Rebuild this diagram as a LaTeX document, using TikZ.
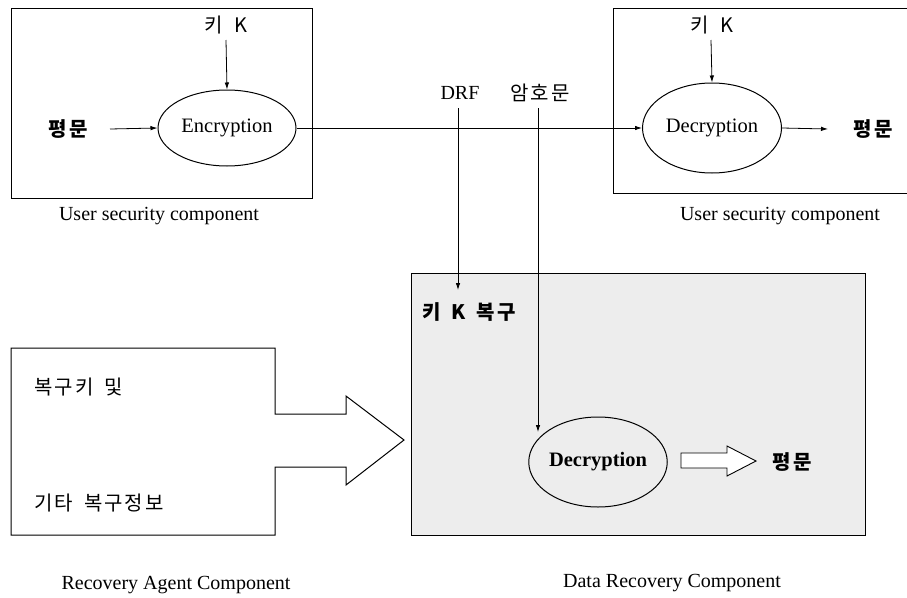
\documentclass[tikz,border=0pt]{standalone}
\usepackage{fontspec}
\setmainfont{Liberation Serif}
\newfontfamily\kr[LetterSpace=10]{Noto Sans CJK KR}
\newcommand{\wsp}{\hspace{0.55em}}
\usetikzlibrary{shapes.geometric,arrows.meta}
\begin{document}
\begin{tikzpicture}[x=1pt,y=-1pt,
  every node/.style={inner sep=1pt},
  box/.style={draw,line width=1pt},
  proc/.style={draw,ellipse,line width=1pt,inner sep=0pt,font=\fontsize{20.5}{22}\selectfont},
  lbl/.style={font=\fontsize{20}{22}\selectfont},
  krl/.style={font=\fontsize{20}{22}\selectfont\kr},
  krb/.style={font=\fontsize{20}{22}\selectfont\kr\bfseries},
  arr/.style={line width=0.8pt,-{Latex[length=7pt,width=4.5pt]}},
  ln/.style={line width=0.8pt}]
\useasboundingbox (0,0) rectangle (907,597);
% boxes
\draw[box] (11,8) rectangle (312,198);
\draw[box] (907,8) -- (613,8) -- (613,193) -- (907,193);
\draw[box,fill=black!7] (411,273) rectangle (865,535);
\draw[box,fill=white] (11,348) -- (275,348) -- (275,414) -- (346,414) -- (346,396)
  -- (404,440) -- (346,485) -- (346,467) -- (275,467) -- (275,535) -- (11,535) -- cycle;
% ellipses
\node[proc,minimum width=138pt,minimum height=76pt] (enc) at (227,128) {Encryption};
\node[proc,minimum width=139pt,minimum height=90pt] (dec1) at (712,128) {Decryption};
\node[proc,minimum width=138pt,minimum height=90pt,font=\fontsize{20.5}{22}\selectfont\bfseries] (dec2) at (598,462) {Decryption};
% texts
\node[krl] (keyL) at (226,25) {키\wsp K};
\node[krl] (keyR) at (712,25) {키\wsp K};
\node[krb] (ptL) at (68,129) {평문};
\node[krb] (ptR) at (873,129) {평문};
\node[lbl] (drf) at (460,93) {DRF};
\node[krl] (ct) at (540,93) {암호문};
\node[krb,anchor=west] (kkr) at (421,312) {키\wsp K\wsp 복구};
\node[krb] (pt3) at (792,462) {평문};
\node[krl,anchor=west] (ra1) at (33,387) {복구키\wsp 및};
\node[krl,anchor=west] (ra2) at (33,503) {기타\wsp 복구정보};
\node[lbl] (capL) at (159,216) {User security component};
\node[lbl] (capR) at (780,216) {User security component};
\node[lbl] (capRA) at (176,585) {Recovery Agent Component};
\node[lbl] (capDR) at (672,583) {Data Recovery Component};
% connectors
\coordinate (kL) at (226,40);
\coordinate (kR) at (711,40);
\coordinate (drfTop) at (458,108);
\coordinate (drfEnd) at (458,290);
\coordinate (ctTop) at (538,108);
\coordinate (ctEnd) at (538,432);
\coordinate (pL) at (110,129);
\coordinate (pR) at (828,129);
\draw[arr] (kL) -- (enc.north);
\draw[arr] (kR) -- (dec1.north);
\draw[arr] (pL) -- (enc.west);
\draw[arr] (enc.east) -- (dec1.west);
\draw[arr] (dec1.east) -- (pR);
\draw[arr] (drfTop) -- (drfEnd);
\draw[arr] (ctTop) -- (ctEnd);
% hollow arrow
\draw[line width=0.9pt,fill=white] (681,453) -- (727,453) -- (727,446) -- (756,461) -- (727,476) -- (727,468) -- (681,468) -- cycle;
\end{tikzpicture}
\end{document}
